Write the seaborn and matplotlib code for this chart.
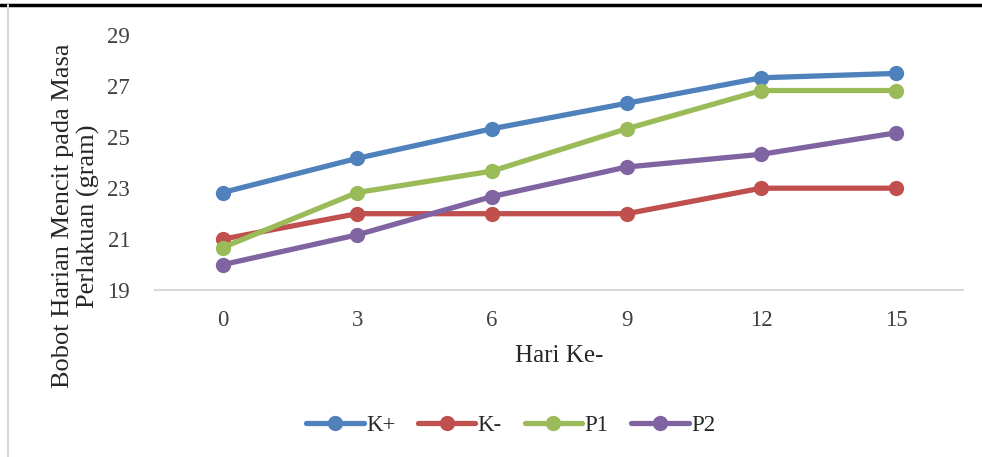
import numpy as np
import pandas as pd
import matplotlib
matplotlib.use('Agg')
import matplotlib.pyplot as plt
import seaborn as sns
from matplotlib.lines import Line2D

# Data
hari = [0, 3, 6, 9, 12, 15]
k_plus = [22.83, 24.17, 25.33, 26.33, 27.33, 27.5]
k_min = [21.0, 22.0, 22.0, 22.0, 23.0, 23.0]
p1 = [20.67, 22.83, 23.67, 25.33, 26.83, 26.83]
p2 = [20.0, 21.17, 22.67, 23.83, 24.33, 25.17]
groups = ['K+', 'K-', 'P1', 'P2']
colors = ['#4F81BD', '#C0504D', '#9BBB59', '#8064A2']

df = pd.DataFrame({
    'Hari': hari * 4,
    'Bobot': k_plus + k_min + p1 + p2,
    'Kelompok': [g for g in groups for _ in hari],
})

sns.set_style('white')
plt.rcParams['font.family'] = ['Liberation Serif', 'DejaVu Serif']

fig = plt.figure(figsize=(9.82, 4.57), dpi=100)
ax = fig.add_axes([0.158, 0.365, 0.823, 0.558])

sns.lineplot(data=df, x='Hari', y='Bobot', hue='Kelompok', palette=colors,
             hue_order=groups, marker='o', markersize=11, markeredgewidth=0,
             linewidth=3.8, ax=ax, legend=False)

ax.set_xlim(-1.5, 16.5)
ax.set_ylim(19, 29)
ax.set_xticks(hari)
ax.set_yticks([19, 21, 23, 25, 27, 29])
ax.tick_params(axis='both', length=0, labelsize=16.5, labelcolor='#404040')
ax.tick_params(axis='x', pad=14)
ax.tick_params(axis='y', pad=18)
for s in ['top', 'right', 'left']:
    ax.spines[s].set_visible(False)
ax.spines['bottom'].set_color('#d9d9d9')
ax.spines['bottom'].set_linewidth(1.5)
ax.set_xlabel('Hari Ke-', fontsize=18, labelpad=10)
ax.set_ylabel('Bobot Harian Mencit pada Masa\nPerlakuan (gram)', fontsize=19,
              linespacing=1.15)
# label sits lower than the axes centre, as in the source chart
ax.yaxis.set_label_coords(-0.068, 0.29)

handles = [Line2D([0], [0], color=c, lw=3.8, marker='o', markersize=11,
                  markeredgewidth=0) for c in colors]
fig.legend(handles, groups, loc='center', bbox_to_anchor=(0.52, 0.068), ncol=4,
           frameon=False, fontsize=16.5, handlelength=2.5, handletextpad=0.1,
           columnspacing=1.0)

# frame edges visible in the screenshot
fig.add_artist(Line2D([0, 1], [0.99, 0.99], color='black', lw=2.5,
                      transform=fig.transFigure))
fig.add_artist(Line2D([0.008, 0.008], [0, 0.99], color='#d9d9d9', lw=1.5,
                      transform=fig.transFigure))

fig.savefig('out.png', dpi=100)
